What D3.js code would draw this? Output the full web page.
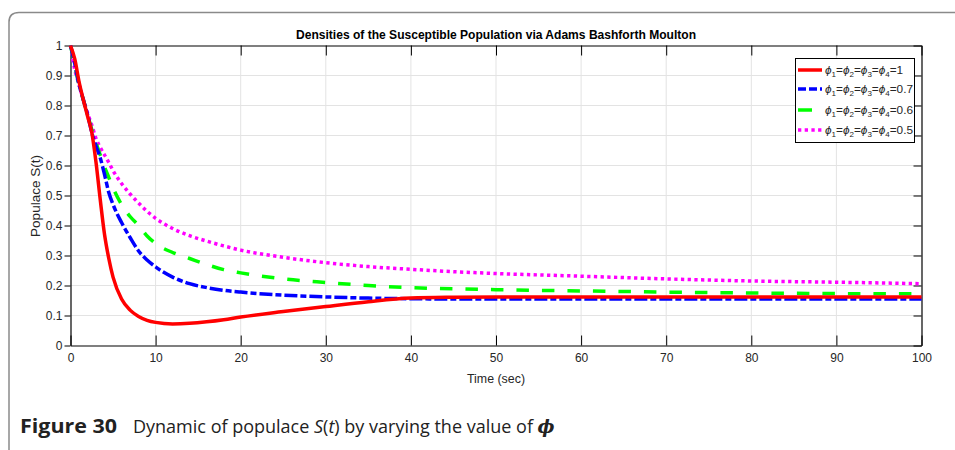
<!DOCTYPE html>
<html><head><meta charset="utf-8">
<script src="https://cdn.jsdelivr.net/npm/d3@7"></script>
<style>body{margin:0;background:#fff}svg{display:block}</style>
</head><body>
<svg id="c" width="955" height="450"></svg>
<script>
const time = [0,0.5,1,1.5,2,2.5,3,3.5,4,4.5,5,6,7,8,9,10,12,14,16,18,20,25,30,35,40,45,50,60,70,80,90,100];
const phi1   = [1,0.955,0.88,0.82,0.765,0.71,0.61,0.485,0.37,0.29,0.228,0.155,0.118,0.097,0.084,0.077,0.072,0.074,0.079,0.086,0.095,0.113,0.130,0.146,0.158,0.161,0.162,0.162,0.162,0.162,0.162,0.162];
const phi07  = [1,0.94,0.87,0.82,0.77,0.71,0.665,0.625,0.57,0.51,0.47,0.41,0.36,0.315,0.285,0.262,0.228,0.206,0.193,0.184,0.178,0.168,0.162,0.158,0.156,0.155,0.155,0.155,0.155,0.155,0.155,0.155];
const phi06  = [1,0.935,0.87,0.82,0.77,0.72,0.675,0.635,0.595,0.56,0.525,0.47,0.43,0.40,0.365,0.34,0.31,0.29,0.27,0.253,0.242,0.222,0.21,0.20,0.193,0.189,0.186,0.182,0.178,0.175,0.173,0.172];
const phi05  = [1,0.92,0.87,0.82,0.775,0.735,0.69,0.66,0.635,0.61,0.583,0.54,0.505,0.475,0.447,0.424,0.39,0.366,0.348,0.332,0.318,0.294,0.276,0.263,0.254,0.246,0.24,0.231,0.222,0.215,0.211,0.206];
const seriesNames = ["1","0.7","0.6","0.5"];
const seriesColors = ["#ff0000","#0000ff","#00ff00","#ff00ff"];
const seriesDash = [null,"13,3,6,3","12.5,13","3.3,3.4"];
const xTicks = [0,10,20,30,40,50,60,70,80,90,100];
const yTicks = [0,0.1,0.2,0.3,0.4,0.5,0.6,0.7,0.8,0.9,1];

const svg = d3.select("#c");
const F = "'Liberation Sans', Arial, sans-serif";
const x = d3.scaleLinear().domain([0,100]).range([70.5,921.5]);
const y = d3.scaleLinear().domain([0,1]).range([345.5,45.5]);

// frame
svg.append("path").attr("d","M9,470 L9,22 Q9,12.5 19,12.5 L960,12.5")
  .attr("fill","none").attr("stroke","#8a8a8a").attr("stroke-width",1.5);

// grid
const g = svg.append("g");
g.selectAll(".gx").data(xTicks.slice(1,-1)).join("line")
  .attr("x1",d=>x(d)).attr("x2",d=>x(d)).attr("y1",y(0)).attr("y2",y(1))
  .attr("stroke","#e3e3e3").attr("stroke-width",1);
g.selectAll(".gy").data(yTicks.slice(1,-1)).join("line")
  .attr("y1",d=>y(d)).attr("y2",d=>y(d)).attr("x1",x(0)).attr("x2",x(100))
  .attr("stroke","#e3e3e3").attr("stroke-width",1);

// axes
const xa = svg.append("g").attr("transform",`translate(0,${y(0)})`)
  .call(d3.axisBottom(x).tickValues(xTicks).tickSizeInner(-10).tickSizeOuter(0).tickPadding(8));
const xt = svg.append("g").attr("transform",`translate(0,${y(1)})`)
  .call(d3.axisTop(x).tickValues(xTicks).tickSizeInner(-10).tickSizeOuter(0).tickFormat(""));
const ya = svg.append("g").attr("transform",`translate(${x(0)},0)`)
  .call(d3.axisLeft(y).tickValues(yTicks).tickSizeInner(6).tickSizeOuter(0).tickPadding(2).tickFormat(d3.format("~g")));
const yr = svg.append("g").attr("transform",`translate(${x(100)},0)`)
  .call(d3.axisRight(y).tickValues(yTicks).tickSizeInner(-8).tickSizeOuter(0).tickFormat(""));
[xa,xt,ya,yr].forEach(a=>{
  a.attr("font-size",null).attr("font-family",null);
  a.select(".domain").attr("stroke","#000").attr("stroke-width",1.2);
  a.selectAll(".tick line").attr("stroke","#000");
  a.selectAll("text").style("font-family",F).style("font-size","12px").attr("fill","#262626");
});

// lines
const line = d3.line().x((d,i)=>x(time[i])).y(d=>y(d)).curve(d3.curveMonotoneX);
const all = [phi1,phi07,phi06,phi05];
const lg = svg.append("g");
[3,2,1,0].forEach(k=>{
  lg.append("path").attr("d",line(all[k])).attr("fill","none")
    .attr("stroke",seriesColors[k]).attr("stroke-width",3.5)
    .attr("stroke-dasharray",seriesDash[k]).attr("stroke-linejoin","round");
});

// title and axis labels
svg.append("text").attr("x",496).attr("y",39).attr("text-anchor","middle")
  .attr("font-family",F).attr("font-weight","bold").attr("font-size",12)
  .attr("textLength",400).attr("lengthAdjust","spacingAndGlyphs")
  .text("Densities of the Susceptible Population via Adams Bashforth Moulton");
svg.append("text").attr("x",496).attr("y",383).attr("text-anchor","middle")
  .attr("font-family",F).attr("font-size",13).attr("fill","#262626")
  .attr("textLength",58).attr("lengthAdjust","spacingAndGlyphs").text("Time (sec)");
svg.append("text").attr("transform","translate(40,196) rotate(-90)").attr("text-anchor","middle")
  .attr("font-family",F).attr("font-size",13.5).attr("fill","#262626").text("Populace S(t)");

// legend
const leg = svg.append("g");
leg.append("rect").attr("x",795.5).attr("y",58.5).attr("width",119).attr("height",84)
  .attr("fill","#fff").attr("stroke","#000").attr("stroke-width",1);
const ly = [70,89,110,130];
seriesNames.forEach((n,k)=>{
  const x1 = 798, x2 = k===2 ? 812 : 822;
  leg.append("line").attr("x1",x1).attr("x2",x2).attr("y1",ly[k]).attr("y2",ly[k])
    .attr("stroke",seriesColors[k]).attr("stroke-width",3.5)
    .attr("stroke-dasharray",k===1?"8,3":k===3?"3.3,3.4":null);
  const t = leg.append("text").attr("x",825).attr("y",ly[k]+4)
    .attr("font-family",F).attr("font-size",11.8).attr("fill","#262626");
  [1,2,3,4].forEach((s,j)=>{
    t.append("tspan").attr("font-style","italic").text("\u03d5");
    t.append("tspan").attr("font-size",8).attr("dy",3).text(s);
    t.append("tspan").attr("dy",-3).text(j<3?"=":"="+n);
  });
});

// caption
svg.append("text").attr("x",20).attr("y",433)
  .attr("font-family","'Open Sans', 'Noto Sans', sans-serif").attr("font-size",19.5).attr("fill","#222")
  .attr("font-weight","bold").attr("textLength",97).attr("lengthAdjust","spacingAndGlyphs").text("Figure 30");
const cap = svg.append("text").attr("x",133).attr("y",433)
  .attr("font-family","'Open Sans', 'Noto Sans', sans-serif").attr("font-size",18).attr("fill","#222");
cap.append("tspan").text("Dynamic of populace ");
cap.append("tspan").attr("font-style","italic").text("S");
cap.append("tspan").text("(");
cap.append("tspan").attr("font-style","italic").text("t");
cap.append("tspan").text(") by varying the value of ");
cap.append("tspan").attr("font-style","italic").attr("font-weight","bold").attr("font-family","'DejaVu Serif', serif").text("\u03d5");
</script>
</body></html>
